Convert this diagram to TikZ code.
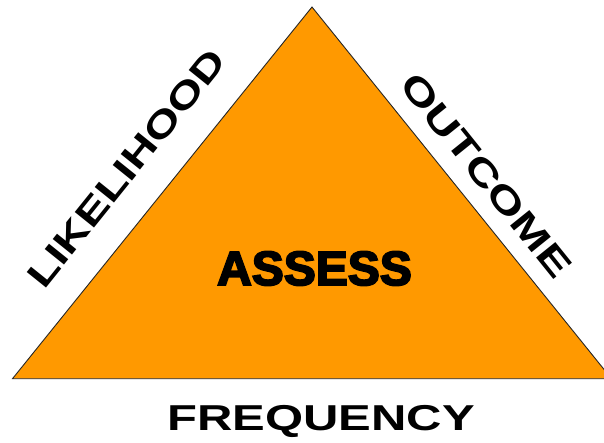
\documentclass[tikz,border=0pt]{standalone}
\usepackage{fontspec}
\setmainfont{Liberation Sans}
\newfontfamily\heavyfont{Liberation Sans}[UprightFont=*-Bold,FakeBold=4]
\usepackage{graphicx}
\definecolor{trifill}{RGB}{255,153,0}
\begin{document}
\begin{tikzpicture}[x=1pt,y=-1pt,
  tri/.style={fill=trifill,draw=black!85,line width=0.9pt,line join=miter},
  sidelabel/.style={inner sep=0pt,text height=25.8pt,text depth=0pt,
    font=\fontsize{36}{36}\selectfont\bfseries},
  centrelabel/.style={inner sep=0pt,text height=35pt,text depth=0pt,
    font=\heavyfont\fontsize{48}{48}\selectfont}]
\useasboundingbox (0,0) rectangle (604,443);
\clip (0,0) rectangle (604,443);
\coordinate (apex) at (312,7);
\coordinate (bl) at (12.5,378.7);
\coordinate (br) at (611.5,378.7);
\draw[tri] (apex) -- (bl) -- (br) -- cycle;
\node[centrelabel] (assess) at (314.5,267.5) {ASSESS};
\node[sidelabel,rotate=51.2] (likelihood) at (126,168) {\scalebox{1.32}[1]{LIKELIHOOD}};
\node[sidelabel,rotate=-51.2] (outcome) at (486.5,175) {\scalebox{1.36}[1]{OUTCOME}};
\node[sidelabel] (frequency) at (321,418) {\scalebox{1.36}[1]{FREQUENCY}};
\end{tikzpicture}
\end{document}
